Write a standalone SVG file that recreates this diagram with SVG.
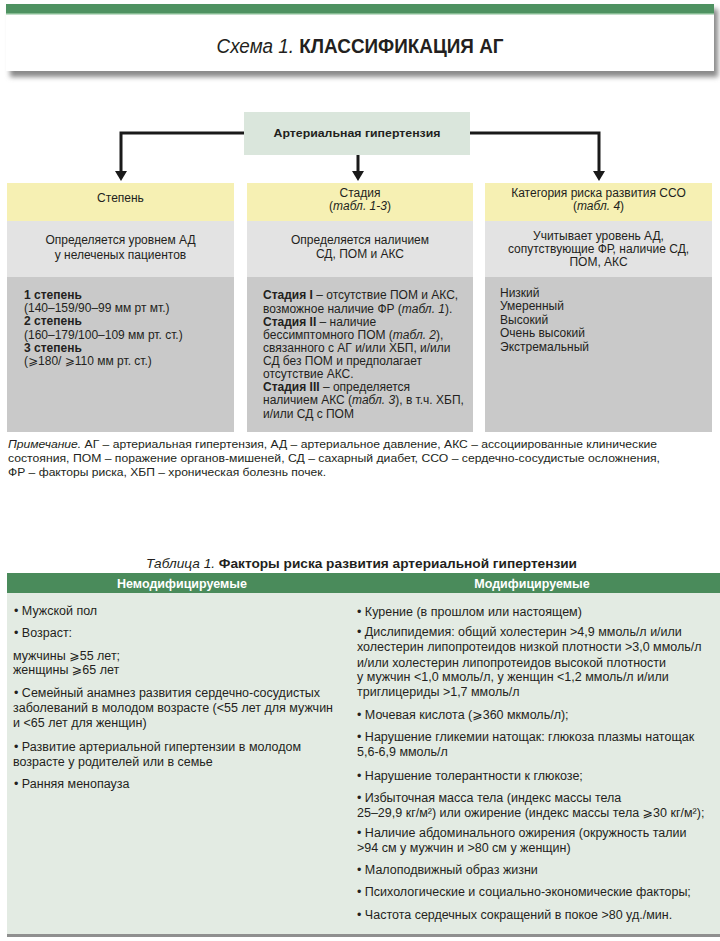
<svg xmlns="http://www.w3.org/2000/svg" width="720" height="941" viewBox="0 0 720 941">
<defs>
<style>
.t{font-family:"Liberation Sans",Arial,"DejaVu Sans",sans-serif;fill:#231f20}
.f12{font-size:12px}
.f125{font-size:12.5px}
.b{font-weight:bold}
.i{font-style:italic}
.m{text-anchor:middle}
.w{fill:#ffffff}
.yel{fill:#f6f0b3}
.lg{fill:#e3e3e3}
.dg{fill:#c9c9c9}
.con{fill:none;stroke:#1a1a1a;stroke-width:3}
</style>
<marker id="arr" markerUnits="userSpaceOnUse" markerWidth="12" markerHeight="12" refX="2" refY="6" orient="auto">
<path d="M0,0 L10,6 L0,12 z" fill="#1a1a1a"/>
</marker>
<filter id="sh" x="-5%" y="-20%" width="115%" height="150%">
<feGaussianBlur stdDeviation="2.5"/>
</filter>
</defs>
<rect width="720" height="941" fill="#ffffff"/>

<g id="header">
<rect x="10" y="9" width="708" height="68" fill="#8a8a8a" filter="url(#sh)"/>
<rect x="6" y="4" width="708" height="67" fill="#ffffff"/>
<rect x="6" y="4" width="708" height="10" fill="#4e9261"/>
<rect x="6" y="13" width="708" height="1.5" fill="#85bb92"/>
<text class="t m" x="360" y="53" font-size="20" textLength="287" lengthAdjust="spacingAndGlyphs"><tspan class="i">Схема 1.</tspan> <tspan class="b">КЛАССИФИКАЦИЯ АГ</tspan></text>
</g>

<g id="node-ag">
<rect x="244" y="112" width="226" height="43" fill="#dae6dc"/>
<text class="t m b" x="357" y="137" font-size="11.5" textLength="167" lengthAdjust="spacingAndGlyphs">Артериальная гипертензия</text>
</g>

<g id="connectors">
<path class="con" d="M244,133 H121 V173" marker-end="url(#arr)"/>
<path class="con" d="M358,155 V173" marker-end="url(#arr)"/>
<path class="con" d="M470,133 H599 V173" marker-end="url(#arr)"/>
</g>

<g id="col-stepen">
<rect class="yel" x="7" y="183" width="227" height="38"/>
<rect class="lg" x="7" y="221" width="227" height="56"/>
<rect class="dg" x="7" y="277" width="227" height="155"/>
<text class="t f12 m" x="120.5" y="202">Степень</text>
<text class="t f12 m" x="120.5" y="244">Определяется уровнем АД</text>
<text class="t f12 m" x="120.5" y="259">у нелеченых пациентов</text>
<text class="t f12" x="24" y="299"><tspan class="b">1 степень</tspan></text>
<text class="t f12" x="24" y="312">(140–159/90–99 мм рт мт.)</text>
<text class="t f12" x="24" y="325"><tspan class="b">2 степень</tspan></text>
<text class="t f12" x="24" y="339">(160–179/100–109 мм рт. ст.)</text>
<text class="t f12" x="24" y="352"><tspan class="b">3 степень</tspan></text>
<text class="t f12" x="24" y="365">(⩾180/ ⩾110 мм рт. ст.)</text>
</g>

<g id="col-stadia">
<rect class="yel" x="247" y="183" width="226" height="38"/>
<rect class="lg" x="247" y="221" width="226" height="56"/>
<rect class="dg" x="247" y="277" width="226" height="155"/>
<text class="t f12 m" x="360" y="197">Стадия</text>
<text class="t f12 m" x="360" y="210">(<tspan class="i">табл. 1-3</tspan>)</text>
<text class="t f12 m" x="360" y="244">Определяется наличием</text>
<text class="t f12 m" x="360" y="258">СД, ПОМ и АКС</text>
<text class="t f12" x="263" y="299"><tspan class="b">Стадия I</tspan> – отсутствие ПОМ и АКС,</text>
<text class="t f12" x="263" y="313">возможное наличие ФР (<tspan class="i">табл. 1</tspan>).</text>
<text class="t f12" x="263" y="326"><tspan class="b">Стадия II</tspan> – наличие</text>
<text class="t f12" x="263" y="339">бессимптомного ПОМ (<tspan class="i">табл. 2</tspan>),</text>
<text class="t f12" x="263" y="352">связанного с АГ и/или ХБП, и/или</text>
<text class="t f12" x="263" y="365">СД без ПОМ и предполагает</text>
<text class="t f12" x="263" y="378">отсутствие АКС.</text>
<text class="t f12" x="263" y="391"><tspan class="b">Стадия III</tspan> – определяется</text>
<text class="t f12" x="263" y="404">наличием АКС (<tspan class="i">табл. 3</tspan>), в т.ч. ХБП,</text>
<text class="t f12" x="263" y="418">и/или СД с ПОМ</text>
</g>

<g id="col-risk">
<rect class="yel" x="485" y="183" width="227" height="38"/>
<rect class="lg" x="485" y="221" width="227" height="56"/>
<rect class="dg" x="485" y="277" width="227" height="155"/>
<text class="t f12 m" x="598.5" y="197">Категория риска развития ССО</text>
<text class="t f12 m" x="598.5" y="210">(<tspan class="i">табл. 4</tspan>)</text>
<text class="t f12 m" x="598.5" y="240">Учитывает уровень АД,</text>
<text class="t f12 m" x="598.5" y="253">сопутствующие ФР, наличие СД,</text>
<text class="t f12 m" x="598.5" y="266">ПОМ, АКС</text>
<text class="t f12" x="500" y="297">Низкий</text>
<text class="t f12" x="500" y="310">Умеренный</text>
<text class="t f12" x="500" y="324">Высокий</text>
<text class="t f12" x="500" y="337">Очень высокий</text>
<text class="t f12" x="500" y="351">Экстремальный</text>
</g>

<g id="note">
<text class="t" x="8" y="448" font-size="11.5" textLength="649" lengthAdjust="spacingAndGlyphs"><tspan class="i">Примечание.</tspan> АГ – артериальная гипертензия, АД – артериальное давление, АКС – ассоциированные клинические</text>
<text class="t" x="8" y="462" font-size="11.5" textLength="652" lengthAdjust="spacingAndGlyphs">состояния, ПОМ – поражение органов-мишеней, СД – сахарный диабет, ССО – сердечно-сосудистые осложнения,</text>
<text class="t" x="8" y="476" font-size="11.5" textLength="318" lengthAdjust="spacingAndGlyphs">ФР – факторы риска, ХБП – хроническая болезнь почек.</text>
</g>

<g id="table1">
<text class="t m" x="361.5" y="568" font-size="13.5" textLength="431" lengthAdjust="spacingAndGlyphs"><tspan class="i">Таблица 1.</tspan> <tspan class="b">Факторы риска развития артериальной гипертензии</tspan></text>
<rect x="7" y="573" width="713" height="20" fill="#4a8b5b"/>
<rect x="7" y="593" width="713" height="342" fill="#e3ebe3"/>
<rect x="7" y="934" width="713" height="3" fill="#8f8f8f"/>
<text class="t b m w" x="182" y="588" font-size="12.5">Немодифицируемые</text>
<text class="t b m w" x="532" y="588" font-size="12.5">Модифицируемые</text>

<g id="col-nonmod">
<text class="t f125" x="14" y="615">• Мужской пол</text>
<text class="t f125" x="14" y="637">• Возраст:</text>
<text class="t f125" x="13" y="660">мужчины ⩾55 лет;</text>
<text class="t f125" x="13" y="674">женщины ⩾65 лет</text>
<text class="t f125" x="14" y="697">• Семейный анамнез развития сердечно-сосудистых</text>
<text class="t f125" x="13" y="712">заболеваний в молодом возрасте (&lt;55 лет для мужчин</text>
<text class="t f125" x="13" y="727">и &lt;65 лет для женщин)</text>
<text class="t f125" x="14" y="751">• Развитие артериальной гипертензии в молодом</text>
<text class="t f125" x="13" y="766">возрасте у родителей или в семье</text>
<text class="t f125" x="14" y="788">• Ранняя менопауза</text>
</g>

<g id="col-mod">
<text class="t f125" x="357" y="616">• Курение (в прошлом или настоящем)</text>
<text class="t f125" x="357" y="636">• Дислипидемия: общий холестерин &gt;4,9 ммоль/л и/или</text>
<text class="t f125" x="357" y="651">холестерин липопротеидов низкой плотности &gt;3,0 ммоль/л</text>
<text class="t f125" x="357" y="667">и/или холестерин липопротеидов высокой плотности</text>
<text class="t f125" x="357" y="681">у мужчин &lt;1,0 ммоль/л, у женщин &lt;1,2 ммоль/л и/или</text>
<text class="t f125" x="357" y="696">триглицериды &gt;1,7 ммоль/л</text>
<text class="t f125" x="357" y="719">• Мочевая кислота (⩾360 мкмоль/л);</text>
<text class="t f125" x="357" y="741">• Нарушение гликемии натощак: глюкоза плазмы натощак</text>
<text class="t f125" x="357" y="756">5,6-6,9 ммоль/л</text>
<text class="t f125" x="357" y="780">• Нарушение толерантности к глюкозе;</text>
<text class="t f125" x="357" y="802">• Избыточная масса тела (индекс массы тела</text>
<text class="t f125" x="357" y="817">25–29,9 кг/м²) или ожирение (индекс массы тела ⩾30 кг/м²);</text>
<text class="t f125" x="357" y="837">• Наличие абдоминального ожирения (окружность талии</text>
<text class="t f125" x="357" y="852">&gt;94 см у мужчин и &gt;80 см у женщин)</text>
<text class="t f125" x="357" y="874">• Малоподвижный образ жизни</text>
<text class="t f125" x="357" y="896">• Психологические и социально-экономические факторы;</text>
<text class="t f125" x="357" y="919">• Частота сердечных сокращений в покое &gt;80 уд./мин.</text>
</g>
</g>
</svg>
